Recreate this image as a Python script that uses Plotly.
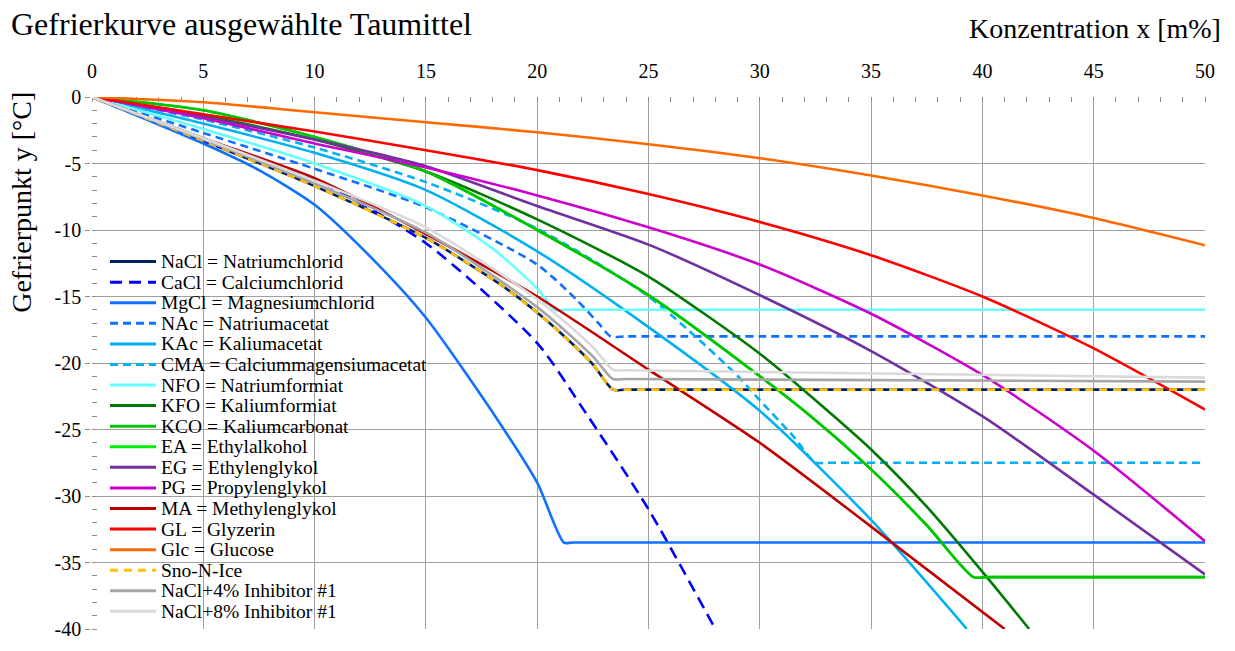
import plotly.graph_objects as go

# ---- Gefrierkurven: Konzentration x [m%] -> Gefrierpunkt y [°C] ----
nacl_x = [0, 5, 10, 15, 18.35, 20, 21.35, 22.5, 23.4, 24, 50]
nacl_y = [0, -3.3, -6.7, -10.6, -14.1, -16.2, -18.2, -20.1, -22.0, -22.0, -22.0]

cacl_x = [0, 5, 10, 15, 20, 22, 25, 28]
cacl_y = [0, -3.3, -6.2, -11.0, -18.5, -23.3, -31.0, -40.0]

mgcl_x = [0, 5, 7.5, 10, 12.5, 15, 18.35, 20, 21.2, 21.6, 50]
mgcl_y = [0, -3.5, -5.5, -8.1, -12.0, -16.6, -24.6, -29.0, -33.5, -33.5, -33.5]

nac_x = [0, 5, 10, 15, 20, 21.8, 22.8, 23.3, 24, 50]
nac_y = [0, -2.7, -5.4, -8.3, -12.6, -15.3, -17.1, -18.0, -18.0, -18.0]

kac_x = [0, 5, 10, 15, 20, 25, 30, 35, 39.3]
kac_y = [0, -2.0, -4.2, -7.0, -11.6, -17.3, -23.6, -31.8, -40.0]

cma_x = [0, 5, 10, 15, 20, 25, 28.9, 30, 31.5, 32.5, 33, 50]
cma_y = [0, -1.7, -3.8, -6.4, -9.9, -15.0, -20.8, -22.8, -25.5, -27.5, -27.5, -27.5]

nfo_x = [0, 5, 10, 15, 18, 20, 20.8, 21.3, 50]
nfo_y = [0, -2.4, -5.0, -8.2, -11.4, -14.4, -16.0, -16.0, -16.0]

kfo_x = [0, 5, 10, 15, 20, 25, 30, 32.5, 35, 37.5, 40.2, 42.1]
kfo_y = [0, -1.4, -3.2, -5.6, -9.2, -13.5, -19.3, -22.8, -26.5, -30.8, -36.1, -40.0]

kco_x = [0, 5, 10, 15, 20, 25, 30, 32.5, 35, 37.5, 39.6, 40.2, 50]
kco_y = [0, -1.0, -3.0, -5.6, -10.0, -14.9, -21.0, -24.3, -28.0, -32.2, -36.1, -36.1, -36.1]

ea_x = [0, 5, 10, 15, 20, 25, 30, 32.5, 35, 37.5, 39.6, 40.2, 50]
ea_y = [0, -1.0, -3.0, -5.6, -10.0, -14.9, -21.0, -24.3, -28.0, -32.2, -36.1, -36.1, -36.1]

conc = [0, 5, 10, 15, 20, 25, 30, 35, 40, 45, 50]
eg_y = [0, -1.5, -3.2, -5.2, -8.2, -11.1, -14.9, -19.1, -24.0, -29.9, -35.9]
pg_y = [0, -1.6, -3.5, -5.3, -7.4, -9.8, -12.6, -16.3, -20.9, -26.6, -33.4]
gl_y = [0, -1.3, -2.6, -4.0, -5.5, -7.3, -9.4, -11.9, -15.0, -18.9, -23.5]
glc_y = [0, -0.4, -1.15, -1.9, -2.65, -3.55, -4.6, -5.9, -7.4, -9.1, -11.15]

ma_x = [0, 5, 10, 15, 20, 25, 30, 35, 41]
ma_y = [0, -3.1, -6.1, -10.3, -15.0, -20.5, -26.0, -32.3, -40.0]

sno_x = [0, 5, 10, 15, 18.35, 20, 21.35, 22.5, 23.4, 24, 50]
sno_y = [0, -3.3, -6.7, -10.6, -14.1, -16.2, -18.2, -20.1, -22.0, -22.0, -22.0]

inh4_x = [0, 5, 10, 15, 20, 22.5, 23.4, 24, 50]
inh4_y = [0, -3.2, -6.5, -10.2, -15.8, -19.5, -21.2, -21.2, -21.4]

inh8_x = [0, 5, 10, 15, 20, 22.5, 23.4, 24, 50]
inh8_y = [0, -3.1, -6.3, -9.8, -15.2, -18.8, -20.5, -20.55, -21.1]

y_ticks = [0, -5, -10, -15, -20, -25, -30, -35, -40]
y_tick_text = ["0", "-5", "-10", "-15", "-20", "-25", "-30", "-35", "-40"]

# (name, x, y, colour, dash, zorder)
series = [
    ("NaCl = Natriumchlorid", nacl_x, nacl_y, "#002060", "solid", 0),
    ("CaCl = Calciumchlorid", cacl_x, cacl_y, "#0000FF", "12px,7px", 0),
    ("MgCl = Magnesiumchlorid", mgcl_x, mgcl_y, "#1070FF", "solid", 0),
    ("NAc = Natriumacetat", nac_x, nac_y, "#1070FF", "8px,5px", 0),
    ("KAc = Kaliumacetat", kac_x, kac_y, "#00B0F0", "solid", 0),
    ("CMA = Calciummagensiumacetat", cma_x, cma_y, "#00B0F0", "8px,5px", 0),
    ("NFO = Natriumformiat", nfo_x, nfo_y, "#66FFFF", "solid", 0),
    ("KFO = Kaliumformiat", kfo_x, kfo_y, "#007A00", "solid", 0),
    ("KCO = Kaliumcarbonat", kco_x, kco_y, "#00C400", "solid", 0),
    ("EA = Ethylalkohol", ea_x, ea_y, "#00EE00", "solid", -1),
    ("EG = Ethylenglykol", conc, eg_y, "#7030A0", "solid", 0),
    ("PG = Propylenglykol", conc, pg_y, "#CC00CC", "solid", 0),
    ("MA = Methylenglykol", ma_x, ma_y, "#C00000", "solid", 0),
    ("GL = Glyzerin", conc, gl_y, "#FF0000", "solid", 0),
    ("Glc = Glucose", conc, glc_y, "#FF6A00", "solid", 0),
    ("Sno-N-Ice", sno_x, sno_y, "#FFC000", "8px,6px", 0),
    ("NaCl+4% Inhibitor #1", inh4_x, inh4_y, "#A6A6A6", "solid", 0),
    ("NaCl+8% Inhibitor #1", inh8_x, inh8_y, "#DADADA", "solid", 0),
]

serif = "Liberation Serif, Times New Roman, serif"
grid = "#A0A0A0"
axis_col = "#8C8C8C"

# plot-area geometry in pixels (used to place the key and the free texts)
W, H = 1235, 651
L, R, T, B = 92, 30, 97, 11
PW, PH = W - L - R, H - T - B


def px_x(px):
    return (px - L) / PW


def px_y(py):
    return (H - B - py) / PH


fig = go.Figure()
for name, xs, ys, color, dash, z in series:
    fig.add_trace(go.Scatter(
        x=xs, y=ys, name=name, mode="lines", zorder=z, showlegend=False,
        line=dict(color=color, width=2.6, dash=dash, shape="spline", smoothing=0.7),
    ))

# key: one short line sample and one label per series, stacked top-down
shapes, annotations = [], []
row0, row_step = 265, 21.0
for i, (name, _, _, color, dash, _) in enumerate(series):
    yy = px_y(row0 + i * row_step)
    shapes.append(dict(type="line", xref="paper", yref="paper",
                       x0=px_x(110), x1=px_x(156), y0=yy, y1=yy,
                       line=dict(color=color, width=3, dash=dash)))
    annotations.append(dict(text=name, xref="paper", yref="paper",
                            x=px_x(159), y=yy, xanchor="left", yanchor="middle",
                            showarrow=False, font=dict(family=serif, size=19.5, color="#000")))

annotations += [
    dict(text="Gefrierkurve ausgewählte Taumittel", xref="paper", yref="paper",
         x=px_x(9), y=px_y(22), xanchor="left", yanchor="middle",
         showarrow=False, font=dict(family=serif, size=32, color="#000")),
    dict(text="Konzentration x [m%]", xref="paper", yref="paper",
         x=px_x(1223), y=px_y(27), xanchor="right", yanchor="middle",
         showarrow=False, font=dict(family=serif, size=28, color="#000")),
    dict(text="Gefrierpunkt y [°C]", xref="paper", yref="paper",
         x=px_x(22), y=px_y(205), xanchor="center", yanchor="middle",
         textangle=-90, showarrow=False, font=dict(family=serif, size=28, color="#000")),
]

fig.update_layout(
    width=W, height=H,
    margin=dict(l=L, r=R, t=T, b=B),
    paper_bgcolor="white", plot_bgcolor="white",
    font=dict(family=serif, size=20, color="#000000"),
    showlegend=False,
    shapes=shapes,
    annotations=annotations,
    xaxis=dict(
        range=[0, 50], side="top", dtick=5, tick0=0,
        showgrid=True, gridcolor=grid, gridwidth=1,
        showline=True, linecolor=axis_col, linewidth=1.5, mirror=True,
        ticks="outside", ticklen=0, tickcolor=axis_col,
        ticklabelstandoff=9,
        minor=dict(dtick=1, ticks="inside", ticklen=5, tickcolor=axis_col, showgrid=False),
        tickfont=dict(family=serif, size=20, color="#000"),
        zeroline=False,
    ),
    yaxis=dict(
        range=[-40, 0], tickvals=y_ticks, ticktext=y_tick_text,
        showgrid=True, gridcolor=grid, gridwidth=1,
        showline=True, linecolor=axis_col, linewidth=1.5, mirror=True,
        ticks="outside", ticklen=5, tickcolor=axis_col,
        minor=dict(dtick=1, ticks="inside", ticklen=5, tickcolor=axis_col, showgrid=False),
        tickfont=dict(family=serif, size=20, color="#000"),
        zeroline=False,
    ),
)

fig.write_html("out.html")
